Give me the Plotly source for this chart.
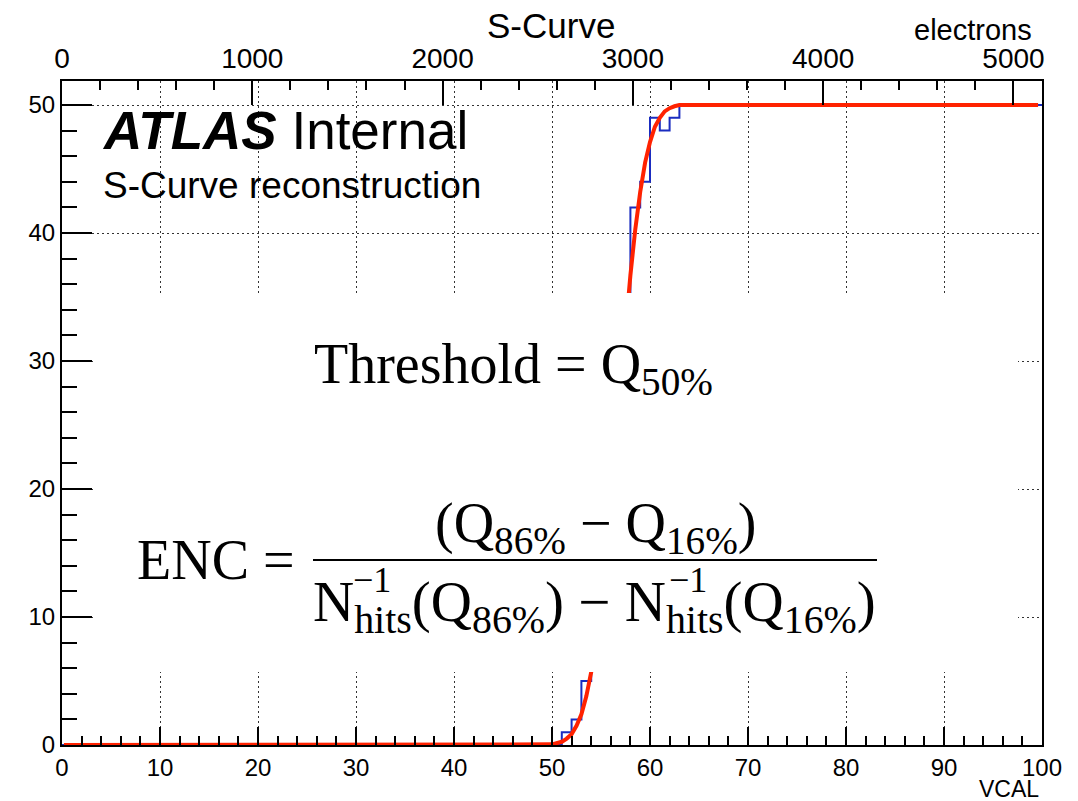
import plotly.graph_objects as go

# ---------------- data ----------------
bin_edges = list(range(0, 101))                      # VCAL bin edges (width 1)
hits = [0] * 51 + [1, 2, 5, 9, 14, 22, 31, 42, 44, 49, 48, 49] + [50] * 37   # 100 bins

fit_x = [0.2, 50, 51, 51.5, 52, 52.5, 53, 53.5, 54, 54.5, 55, 55.5, 56, 56.5, 57,
         57.5, 58, 58.5, 59, 59.5, 60, 60.5, 61, 61.5, 62, 62.5, 63, 99.6]
fit_y = [0, 0.05, 0.25, 0.5, 0.85, 1.5, 2.4, 3.8, 5.7, 8.1, 11.2, 14.9, 19.0, 23.6, 28.2,
         32.6, 36.7, 40.3, 43.2, 45.5, 47.1, 48.3, 49.0, 49.5, 49.75, 49.9, 50, 50]

vcal_range = [0, 100]
electron_range = [0, 5150]
y_range = [0, 51.875]

# ---------------- layout helpers ----------------
W, H = 1078, 801
L, R, T, B = 62, 1042, 81, 745


def px(x):
    return (x - L) / (R - L)


def py(y):
    return (B - y) / (B - T)


SANS = "Liberation Sans, Arial, sans-serif"
SERIF = "Liberation Serif, Times New Roman, serif"

fig = go.Figure()

fig.add_trace(go.Scatter(
    x=bin_edges, y=hits + [hits[-1]], mode="lines", line=dict(shape="hv", color="#1a2cc0", width=2),
    showlegend=False, hoverinfo="skip"))

fig.add_trace(go.Scatter(
    x=fit_x, y=fit_y, mode="lines", line=dict(color="#ff2200", width=4),
    showlegend=False, hoverinfo="skip"))

# invisible trace to activate the top (electrons) axis
fig.add_trace(go.Scatter(x=[electron_range[0]], y=[0], xaxis="x2", mode="markers",
                         marker=dict(opacity=0), showlegend=False, hoverinfo="skip"))

grid_dash = "2px,3px"

fig.update_layout(
    width=W, height=H,
    margin=dict(l=L, r=W - R, t=T, b=H - B),
    paper_bgcolor="white", plot_bgcolor="white",
    font=dict(family=SANS, color="black"),
    xaxis=dict(range=vcal_range, tick0=0, dtick=10, ticks="inside", ticklen=18, tickwidth=1.5,
               tickcolor="black", showline=True, linewidth=2, linecolor="black", mirror=False,
               showgrid=True, gridcolor="#333", gridwidth=1, griddash=grid_dash, zeroline=False,
               tickfont=dict(size=24, family=SANS),
               minor=dict(dtick=2, ticks="inside", ticklen=9, tickwidth=1.5, tickcolor="black",
                          showgrid=False)),
    xaxis2=dict(range=electron_range, overlaying="x", side="top", tick0=0, dtick=1000,
                ticks="inside", ticklen=24, tickwidth=1.5, tickcolor="black", showline=True,
                linewidth=2, linecolor="black", showgrid=False, zeroline=False,
                tickfont=dict(size=28, family=SANS),
                minor=dict(dtick=200, ticks="inside", ticklen=9, tickwidth=1.5, tickcolor="black",
                           showgrid=False)),
    yaxis=dict(range=y_range, tick0=0, dtick=10, ticks="inside", ticklen=30, tickwidth=1.5,
               tickcolor="black", showline=True, linewidth=2, linecolor="black", mirror=True,
               showgrid=True, gridcolor="#333", gridwidth=1, griddash=grid_dash, zeroline=False,
               tickfont=dict(size=24, family=SANS),
               minor=dict(dtick=2, ticks="inside", ticklen=15, tickwidth=1.5, tickcolor="black",
                          showgrid=False)),
)

# white pave covering the middle of the pad (formula box)
fig.add_shape(type="rect", xref="paper", yref="paper", x0=px(93), x1=px(1018), y0=py(672), y1=py(293),
              fillcolor="white", line=dict(width=0), layer="above")
# fraction bar
fig.add_shape(type="line", xref="paper", yref="paper", x0=px(313), x1=px(877), y0=py(560), y1=py(560),
              line=dict(color="black", width=2), layer="above")

ann = []


def add(text, x, y, size, family=SANS, xanchor="left", yanchor="middle"):
    ann.append(dict(text=text, x=px(x), y=py(y), xref="paper", yref="paper", showarrow=False,
                    xanchor=xanchor, yanchor=yanchor, font=dict(size=size, family=family, color="black")))


add("S-Curve", 551, 25, 35, xanchor="center")
add("electrons", 1034, 30, 29, xanchor="right")
add("VCAL", 1041, 789, 23, xanchor="right")
add("<b><i>ATLAS</i></b> Internal", 100, 130, 53)
add("S-Curve reconstruction", 101, 186, 37)

add("Threshold = Q<sub>50%</sub>", 312, 368, 56, family=SERIF)
add("ENC =", 135, 560, 56, family=SERIF)
add("(Q<sub>86%</sub> − Q<sub>16%</sub>)", 595, 527, 56, family=SERIF, xanchor="center")
add("N<sub>hits</sub>(Q<sub>86%</sub>) − N<sub>hits</sub>(Q<sub>16%</sub>)", 311, 606, 57,
    family=SERIF)
add("−1", 351, 580, 36, family=SERIF)
add("−1", 667, 580, 36, family=SERIF)

fig.update_layout(annotations=ann)

fig.write_html("out.html")
